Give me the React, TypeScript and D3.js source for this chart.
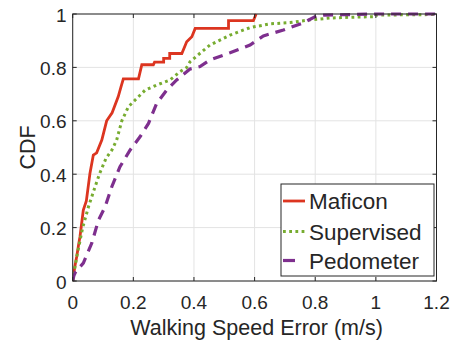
import React from "react";
import * as d3 from "d3";

const xTicks = [0, 0.2, 0.4, 0.6, 0.8, 1, 1.2];
const yTicks = [0, 0.2, 0.4, 0.6, 0.8, 1];
const xTickLabels = ["0", "0.2", "0.4", "0.6", "0.8", "1", "1.2"];
const yTickLabels = ["0", "0.2", "0.4", "0.6", "0.8", "1"];

const maficonX = [0, 0.004, 0.008, 0.013, 0.02, 0.024, 0.03, 0.035, 0.045, 0.057, 0.068, 0.079, 0.096, 0.112, 0.13, 0.15, 0.16, 0.167, 0.217, 0.228, 0.266, 0.27, 0.3, 0.3, 0.32, 0.32, 0.36, 0.376, 0.393, 0.404, 0.514, 0.514, 0.596, 0.605];
const maficonY = [0, 0.03, 0.06, 0.09, 0.14, 0.166, 0.22, 0.266, 0.3, 0.404, 0.472, 0.48, 0.528, 0.6, 0.63, 0.69, 0.73, 0.757, 0.757, 0.81, 0.81, 0.82, 0.82, 0.834, 0.834, 0.852, 0.852, 0.896, 0.915, 0.946, 0.946, 0.975, 0.975, 1];

const supervisedX = [0, 0.004, 0.015, 0.033, 0.052, 0.07, 0.088, 0.11, 0.129, 0.145, 0.162, 0.184, 0.206, 0.239, 0.277, 0.321, 0.354, 0.376, 0.387, 0.42, 0.453, 0.519, 0.585, 0.651, 0.717, 0.783, 0.849, 0.92, 0.998, 1.0, 1.2];
const supervisedY = [0, 0.03, 0.1, 0.2, 0.278, 0.34, 0.4, 0.46, 0.49, 0.528, 0.6, 0.653, 0.678, 0.715, 0.734, 0.753, 0.784, 0.8, 0.821, 0.853, 0.884, 0.921, 0.949, 0.963, 0.968, 0.978, 0.985, 0.988, 0.99, 0.996, 0.998];

const pedometerX = [0, 0.004, 0.01, 0.035, 0.063, 0.085, 0.107, 0.129, 0.156, 0.189, 0.222, 0.25, 0.277, 0.31, 0.343, 0.387, 0.42, 0.453, 0.519, 0.585, 0.629, 0.695, 0.761, 0.805, 0.827, 0.915, 1.0, 1.2];
const pedometerY = [0, 0.02, 0.035, 0.067, 0.142, 0.228, 0.278, 0.353, 0.428, 0.49, 0.54, 0.59, 0.665, 0.715, 0.753, 0.794, 0.803, 0.828, 0.855, 0.884, 0.918, 0.94, 0.967, 0.993, 0.996, 0.998, 1, 1];

const seriesNames = ["Maficon", "Supervised", "Pedometer"];

const W = 450, H = 343;
const left = 72.7, right = 436.5, top = 14, bottom = 281;
const font = "'Liberation Sans', Arial, Helvetica, sans-serif";
const axisColor = "#262626";

export default function App() {
  const x = d3.scaleLinear().domain([0, 1.2]).range([left, right]);
  const y = d3.scaleLinear().domain([0, 1]).range([bottom, top]);
  const line = d3.line<[number, number]>().x(d => x(d[0])).y(d => y(d[1]));
  const zip = (a: number[], b: number[]) => a.map((v, i) => [v, b[i]] as [number, number]);

  const series = [
    { name: seriesNames[0], d: line(zip(maficonX, maficonY)), color: "#DC3520", w: 2.8, dash: "none" },
    { name: seriesNames[1], d: line(zip(supervisedX, supervisedY)), color: "#77AC30", w: 3, dash: "2.8 3.4" },
    { name: seriesNames[2], d: line(zip(pedometerX, pedometerY)), color: "#7E2F8E", w: 3.2, dash: "10 7" },
  ];

  const tl = 4;
  const legX = 281, legY = 184, legW = 153, legH = 92;
  const rowY = [201, 231.5, 260.5];

  return (
    <svg width={W} height={H} style={{ position: "fixed", left: 0, top: 0, background: "#fff" }}>
      <rect x={0} y={0} width={W} height={H} fill="#fff" />
      {xTicks.map((t, i) => (
        <line key={"gx" + i} x1={x(t)} x2={x(t)} y1={top} y2={bottom} stroke="#e3e3e3" strokeWidth={1} />
      ))}
      {yTicks.map((t, i) => (
        <line key={"gy" + i} x1={left} x2={right} y1={y(t)} y2={y(t)} stroke="#e3e3e3" strokeWidth={1} />
      ))}
      <defs>
        <clipPath id="plotclip">
          <rect x={left} y={top - 2} width={right - left} height={bottom - top + 4} />
        </clipPath>
      </defs>
      <g clipPath="url(#plotclip)">
        {series.map(s => (
          <path key={s.name} d={s.d || ""} fill="none" stroke={s.color} strokeWidth={s.w}
            strokeDasharray={s.dash} strokeLinejoin="miter" />
        ))}
      </g>
      <rect x={left} y={top} width={right - left} height={bottom - top} fill="none" stroke={axisColor} strokeWidth={1} />
      {xTicks.map((t, i) => (
        <g key={"xt" + i}>
          <line x1={x(t)} x2={x(t)} y1={bottom} y2={bottom - tl} stroke={axisColor} />
          <line x1={x(t)} x2={x(t)} y1={top} y2={top + tl} stroke={axisColor} />
          <text x={x(t)} y={309} textAnchor="middle" fontFamily={font} fontSize={19} fill="#262626">{xTickLabels[i]}</text>
        </g>
      ))}
      {yTicks.map((t, i) => (
        <g key={"yt" + i}>
          <line x1={left} x2={left + tl} y1={y(t)} y2={y(t)} stroke={axisColor} />
          <line x1={right} x2={right - tl} y1={y(t)} y2={y(t)} stroke={axisColor} />
          <text x={66.5} y={y(t) + 7.5} textAnchor="end" fontFamily={font} fontSize={19} fill="#262626">{yTickLabels[i]}</text>
        </g>
      ))}
      <text x={(left + right) / 2 + 2} y={335} textAnchor="middle" fontFamily={font} fontSize={21.5} fill="#262626">Walking Speed Error (m/s)</text>
      <text transform={`translate(35, ${(top + bottom) / 2}) rotate(-90)`} textAnchor="middle" fontFamily={font} fontSize={21.5} fill="#262626">CDF</text>
      <rect x={legX} y={legY} width={legW} height={legH} fill="#fff" stroke={axisColor} strokeWidth={1} />
      {series.map((s, i) => (
        <g key={"lg" + i}>
          {i === 2 ? (
            <line x1={283} x2={295} y1={rowY[i]} y2={rowY[i]} stroke={s.color} strokeWidth={s.w} />
          ) : (
            <line x1={283} x2={305} y1={rowY[i]} y2={rowY[i]} stroke={s.color} strokeWidth={s.w} strokeDasharray={s.dash} />
          )}
          <text x={309} y={rowY[i] + 8} fontFamily={font} fontSize={22.5} fill="#262626">{s.name}</text>
        </g>
      ))}
    </svg>
  );
}
